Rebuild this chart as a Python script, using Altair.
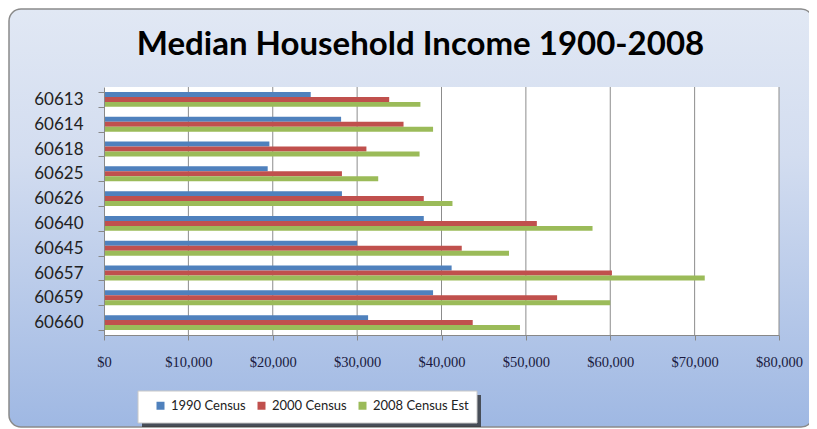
import altair as alt
import pandas as pd

zips = ["60613", "60614", "60618", "60625", "60626", "60640", "60645", "60657", "60659", "60660"]
c1990 = [24500, 28100, 19600, 19400, 28200, 37900, 30000, 41200, 39000, 31300]
c2000 = [33800, 35500, 31100, 28200, 37900, 51300, 42400, 60200, 53700, 43700]
c2008 = [37500, 39000, 37400, 32500, 41300, 57900, 48000, 71200, 60000, 49300]
series = ["1990 Census", "2000 Census", "2008 Census Est"]
colors = ["#4F81BD", "#C0504D", "#9BBB59"]
x_ticks = [0, 10000, 20000, 30000, 40000, 50000, 60000, 70000, 80000]

rows = []
for i, z in enumerate(zips):
    for s, vals in zip(series, [c1990, c2000, c2008]):
        rows.append({"zip": z, "series": s, "income": vals[i]})
df = pd.DataFrame(rows)

W, H = 675, 248
one = pd.DataFrame({"k": [0]})

xscale = alt.Scale(domain=[0, 80000], nice=False, zero=True)


def x_axis():
    return alt.Axis(title=None, values=x_ticks, format="$,.0f", tickSize=5,
                    tickColor="#888888", domainColor="#888888",
                    labelFont="Liberation Serif", labelFontSize=14.5, labelFlush=False,
                    labelColor="#1a1a40", labelPadding=15, grid=False, zindex=1)


bg = alt.Chart(one).mark_rect(
    cornerRadius=12, stroke="#8a8a8a", strokeWidth=1.5,
    fill=alt.Gradient(gradient="linear",
                      stops=[alt.GradientStop(color="#e1e8f4", offset=0),
                             alt.GradientStop(color="#d3ddf0", offset=0.35),
                             alt.GradientStop(color="#9fb8e3", offset=1)],
                      x1=0, y1=0, x2=0, y2=1)
).encode(x=alt.value(-95), x2=alt.value(709), y=alt.value(-78), y2=alt.value(340))

shadow = alt.Chart(one).mark_rect(fill="#2a2a2a", opacity=0.75).encode(
    x=alt.value(38), x2=alt.value(377), y=alt.value(308), y2=alt.value(340))

lbox = alt.Chart(one).mark_rect(fill="white", stroke="#c8c8c8", strokeWidth=1).encode(
    x=alt.value(34), x2=alt.value(373), y=alt.value(304), y2=alt.value(336))

plotbg = alt.Chart(one).mark_rect(fill="white").encode(
    x=alt.value(0), x2=alt.value(W), y=alt.value(0), y2=alt.value(H))

grid = alt.Chart(pd.DataFrame({"income": x_ticks[1:]})).mark_rule(color="#8c8c8c", strokeWidth=1).encode(
    x=alt.X("income:Q", scale=xscale, axis=x_axis()))

bars = alt.Chart(df).mark_bar().encode(
    y=alt.Y("zip:N", sort=zips, scale=alt.Scale(paddingInner=0.4, paddingOuter=0.2),
            axis=alt.Axis(title=None, tickBand="extent", tickSize=6, tickColor="#888888",
                          domainColor="#888888", labelFont="Lato", labelFontSize=17,
                          labelColor="#222222", labelPadding=15, grid=False, zindex=1)),
    x=alt.X("income:Q", scale=xscale, axis=x_axis()),
    yOffset=alt.YOffset("series:N", sort=series, scale=alt.Scale(paddingInner=0, paddingOuter=0)),
    color=alt.Color("series:N", scale=alt.Scale(domain=series, range=colors),
                    legend=alt.Legend(title=None, orient="none", legendX=50, legendY=312,
                                      direction="horizontal", columns=3, symbolType="square",
                                      symbolSize=64, symbolStrokeWidth=0, labelFont="Lato",
                                      labelFontSize=13, labelColor="#222222", columnPadding=9,
                                      labelOffset=4, padding=0)),
)

chart = alt.layer(bg, shadow, lbox, plotbg, grid, bars).properties(
    width=W, height=H,
    title=alt.Title("Median Household Income 1900-2008", font="Lato", fontSize=33,
                    fontWeight="bold", color="black", anchor="middle", dx=-21, offset=0, dy=54),
    autosize=alt.AutoSizeParams(type="none"),
    padding={"left": 96, "top": 79, "right": 30, "bottom": 94},
).configure_view(stroke=None).configure(background="white")

chart.save("out.html", embed_options={"renderer": "svg", "actions": False})
